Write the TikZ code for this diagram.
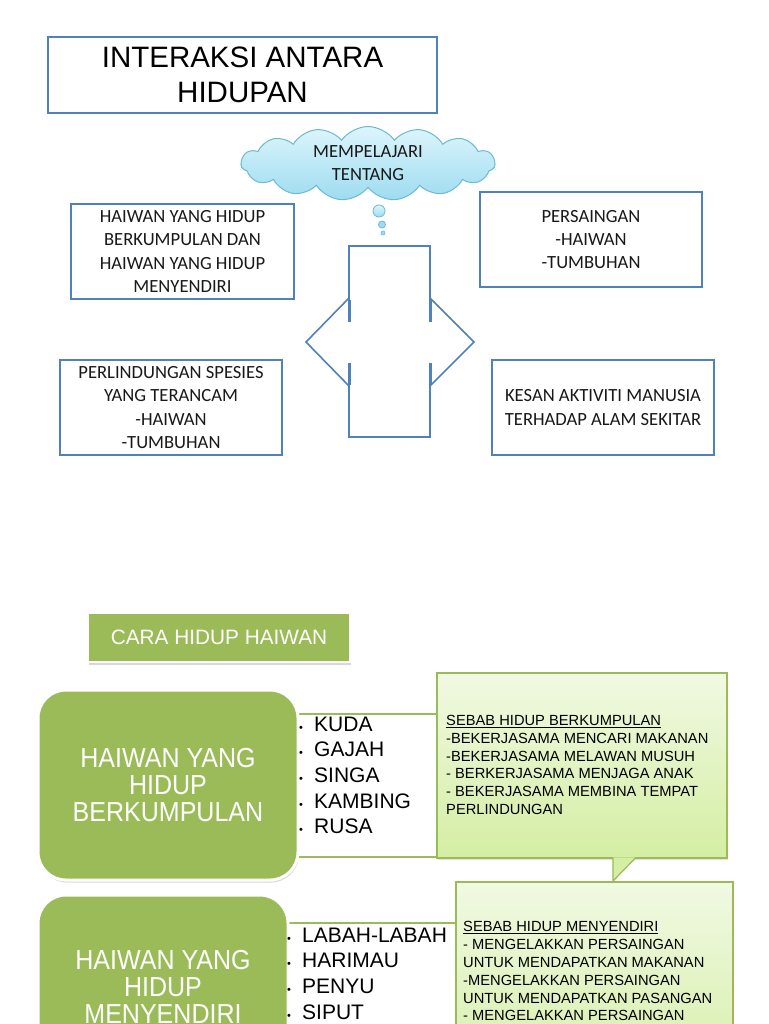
\documentclass[tikz,border=0pt]{standalone}
\usepackage{fontspec}
\setmainfont{Liberation Sans}
\newfontfamily\calfont{Carlito}
\newfontfamily\narrowfont[FakeStretch=0.91]{Liberation Sans}
\usetikzlibrary{shapes.symbols,shadows}
\definecolor{bluebd}{HTML}{4F81BD}
\definecolor{olivegr}{HTML}{9BBB59}
\definecolor{cloudbd}{HTML}{6DB9D2}
\definecolor{cloudtop}{HTML}{DDF5FC}
\definecolor{cloudbot}{HTML}{9EDCF0}
\definecolor{calltop}{HTML}{F1F9E3}
\definecolor{callbot}{HTML}{D4EEA3}
\newcommand{\bul}{\makebox[15pt][l]{\fontsize{11}{11}\selectfont\textbullet}}
\begin{document}
\begin{tikzpicture}[x=1pt,y=-1pt,
  bluebox/.style={draw=bluebd,line width=1.6pt,fill=white,inner sep=0pt,align=center},
  boxtext/.style={font=\calfont\fontsize{18.6}{23.3}\selectfont,align=center,inner sep=0pt,text=black!90},
  crossline/.style={draw=bluebd,line width=1.6pt,line join=miter},
  roundbox/.style={fill=olivegr,draw=white,line width=3pt,rounded corners=28pt,inner sep=0pt,
    drop shadow={opacity=0.3,shadow xshift=1pt,shadow yshift=-2.5pt},
    text=white,align=center,font=\narrowfont\fontsize{27.5}{27}\selectfont},
  greenbox/.style={fill=olivegr,draw=white,line width=2pt,inner sep=0pt,
    drop shadow={opacity=0.3,shadow xshift=1pt,shadow yshift=-2.5pt},
    text=white,font=\fontsize{20.8}{24}\selectfont},
  listbox/.style={draw=olivegr,line width=1.4pt,fill=white,inner sep=0pt},
  listtext/.style={anchor=north west,inner sep=0pt,align=left,font=\fontsize{21}{25.7}\selectfont},
  callbox/.style={draw=olivegr,line width=1.2pt,top color=calltop,bottom color=callbot,inner sep=0pt,
    drop shadow={opacity=0.2,shadow xshift=1pt,shadow yshift=-1.5pt}},
  calltext/.style={anchor=north west,inner sep=0pt,align=left,font=\fontsize{14.7}{17.8}\selectfont}
]
\useasboundingbox (0,0) rectangle (768,1024);
\fill[white] (0,0) rectangle (768,1024);
\clip (0,0) rectangle (768,1024);

% ---------- top part ----------
\node[bluebox,minimum width=389pt,minimum height=76pt,
      font=\fontsize{29.5}{35}\selectfont] (title) at (242.5,75) {INTERAKSI ANTARA\\HIDUPAN};

\node[cloud,cloud puffs=15,cloud puff arc=110,aspect=3.5,draw=cloudbd,line width=1pt,
      top color=cloudtop,bottom color=cloudbot,minimum width=254pt,minimum height=74pt,
      inner sep=0pt] (cloud) at (368,163.5) {};
\node[boxtext] (cloudtxt) at (368,163) {MEMPELAJARI\\TENTANG};
\node[circle,draw=cloudbd,line width=0.8pt,top color=cloudtop,bottom color=cloudbot,
      minimum size=12pt,inner sep=0pt] (b1) at (379,211) {};
\node[circle,draw=cloudbd,line width=0.8pt,fill=cloudbot,minimum size=7pt,inner sep=0pt] (b2) at (382,224.5) {};
\node[circle,draw=cloudbd,line width=0.6pt,fill=cloudbot,minimum size=4pt,inner sep=0pt] (b3) at (383,233) {};

\node[bluebox,minimum width=223pt,minimum height=95pt] (bx1) at (182.5,251.5) {};
\node[boxtext] (t1) at (182.5,251.5) {HAIWAN YANG HIDUP\\BERKUMPULAN DAN\\HAIWAN YANG HIDUP\\MENYENDIRI};
\node[bluebox,minimum width=222pt,minimum height=95pt] (bx2) at (591,239.5) {};
\node[boxtext] (t2) at (591,239.5) {PERSAINGAN\\-HAIWAN\\-TUMBUHAN};
\node[bluebox,minimum width=222pt,minimum height=95pt] (bx3) at (171,407.5) {};
\node[boxtext] (t3) at (171,407.5) {PERLINDUNGAN SPESIES\\YANG TERANCAM\\-HAIWAN\\-TUMBUHAN};
\node[bluebox,minimum width=222pt,minimum height=95pt] (bx4) at (603,407.5) {};
\node[boxtext] (t4) at (603,407.5) {KESAN AKTIVITI MANUSIA\\TERHADAP ALAM SEKITAR};

% centre cross shape
\draw[crossline] (349,300) -- (349,246) -- (430,246) -- (430,300);
\draw[crossline] (349,385) -- (349,437) -- (430,437) -- (430,385);
\draw[crossline] (349,298) -- (306,342) -- (349,386);
\draw[crossline] (430,298) -- (474,342) -- (430,386);
\draw[draw=bluebd,line width=3pt] (349,300)--(349,322) (349,363)--(349,385)
      (430,300)--(430,322) (430,363)--(430,385);

% ---------- bottom part ----------
\node[greenbox,minimum width=262pt,minimum height=49pt] (cara) at (219,637.5) {CARA HIDUP HAIWAN};

% second callout (below), drawn first
\node[callbox,minimum width=277pt,minimum height=218pt] (cb2) at (594.5,991) {};
\node[calltext] (ct2) at (463,921.5) {\underline{SEBAB HIDUP MENYENDIRI}\\- MENGELAKKAN PERSAINGAN\\UNTUK MENDAPATKAN MAKANAN\\-MENGELAKKAN PERSAINGAN\\UNTUK MENDAPATKAN PASANGAN\\- MENGELAKKAN PERSAINGAN};

% first callout
\node[callbox,minimum width=290pt,minimum height=185pt] (cb1) at (582,765.5) {};
\coordinate (tailA) at (613,857.4);
\coordinate (tailP) at (613,881);
\coordinate (tailB) at (636,857.4);
\fill[callbot] (tailA) -- (tailP) -- (tailB) -- cycle;
\draw[draw=olivegr,line width=1.2pt,line join=miter] (tailA) -- (tailP) -- (tailB);
\node[calltext] (ct1) at (446,715) {\underline{SEBAB HIDUP BERKUMPULAN}\\-BEKERJASAMA MENCARI MAKANAN\\-BEKERJASAMA MELAWAN MUSUH\\- BERKERJASAMA MENJAGA ANAK\\- BEKERJASAMA MEMBINA TEMPAT\\PERLINDUNGAN};

% list boxes
\node[listbox,minimum width=170pt,minimum height=143pt] (lb1) at (352,785.5) {};
\node[listbox,minimum width=189pt,minimum height=177pt] (lb2) at (361.5,1011.5) {};

% rounded green boxes
\node[roundbox,minimum width=260pt,minimum height=190pt] (rb1) at (168,785) {HAIWAN YANG\\HIDUP\\BERKUMPULAN};
\node[roundbox,minimum width=250pt,minimum height=184pt] (rb2) at (163,987) {HAIWAN YANG\\HIDUP\\MENYENDIRI};

% lists
\node[listtext] (l1) at (299,716.5) {\bul KUDA\\\bul GAJAH\\\bul SINGA\\\bul KAMBING\\\bul RUSA};
\node[listtext] (l2) at (287,927.5) {\bul LABAH-LABAH\\\bul HARIMAU\\\bul PENYU\\\bul SIPUT};
\end{tikzpicture}
\end{document}
